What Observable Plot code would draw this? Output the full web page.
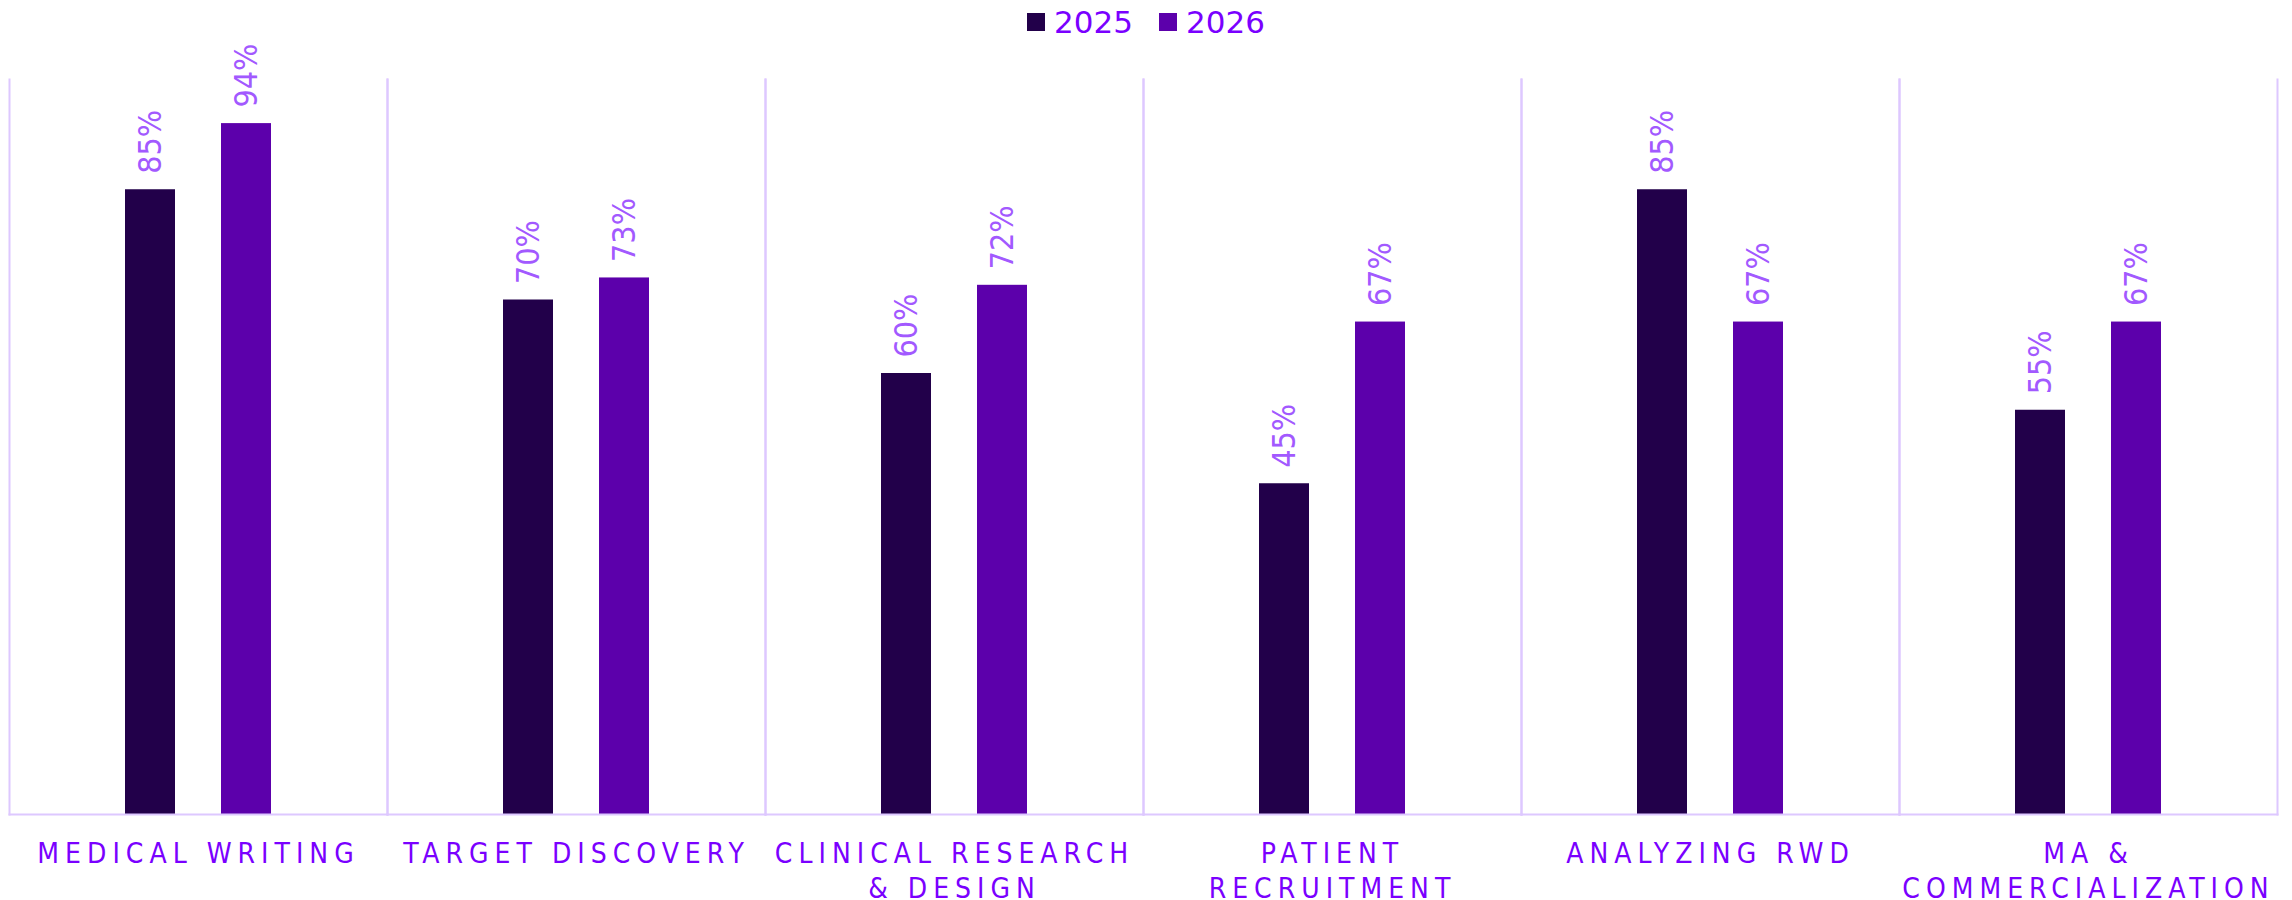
<!DOCTYPE html>
<html>
<head>
<meta charset="utf-8">
<script src="https://cdn.jsdelivr.net/npm/d3@7"></script>
<script src="https://cdn.jsdelivr.net/npm/@observablehq/plot@0.6"></script>
<style>
  html, body { margin: 0; padding: 0; background: #fff; }
  #legend { height: 40px; box-sizing: border-box; padding-top: 4px; display: flex; justify-content: center; align-items: flex-start; color: #7a00ff; }
  #legend > div { font-family: "DejaVu Sans", sans-serif !important; font-size: 31px !important; margin: 0 !important; min-height: 0 !important; justify-content: center; color: #7a00ff; }
  #legend span { margin-right: 26px !important; line-height: 36px; }
  #legend span:last-child { margin-right: 0 !important; }
  #legend span > svg { margin-right: 9px !important; }
  #chart svg { display: block; }
  g[aria-label="fx-axis tick label"] text { letter-spacing: 6px; }
</style>
</head>
<body>
<div id="legend"></div>
<div id="chart"></div>
<script>
// ---- data ----
const categories = [
  "MEDICAL WRITING",
  "TARGET DISCOVERY",
  "CLINICAL RESEARCH\n& DESIGN",
  "PATIENT\nRECRUITMENT",
  "ANALYZING RWD",
  "MA &\nCOMMERCIALIZATION"
];
const years = ["2025", "2026"];
const values2025 = [85, 70, 60, 45, 85, 55];
const values2026 = [94, 73, 72, 67, 67, 67];
const yearColors = ["#22004a", "#5c00ab"];

const data = categories.flatMap((c, i) => [
  {category: c, year: years[0], value: values2025[i]},
  {category: c, year: years[1], value: values2026[i]}
]);

const lineColor = "#ddc8ff";
const condensed = "'DejaVu Sans Condensed', 'DejaVu Sans', sans-serif";

// ---- legend ----
const legend = Plot.legend({
  color: {type: "ordinal", domain: years, range: yearColors},
  swatchSize: 18
});
document.getElementById("legend").appendChild(legend);

// ---- chart ----
const chart = Plot.plot({
  width: 2292,
  height: 860,
  marginTop: 39,
  marginBottom: 86,
  marginLeft: 9,
  marginRight: 15,
  style: {background: "white"},
  fx: {domain: categories, padding: 0, axis: null, label: null},
  x: {domain: years, paddingInner: 0.474, paddingOuter: 1.186, axis: null},
  y: {domain: [0, 100], axis: null},
  color: {domain: years, range: yearColors},
  marks: [
    Plot.frame({anchor: "left", stroke: lineColor, strokeWidth: 2}),
    Plot.frame({anchor: "right", stroke: lineColor, strokeWidth: 2}),
    Plot.barY(data, {fx: "category", x: "year", y: "value", fill: "year"}),
    Plot.frame({anchor: "bottom", stroke: lineColor, strokeWidth: 2}),
    Plot.text(data, {
      fx: "category", x: "year", y: "value",
      text: d => d.value + "%",
      rotate: -90, textAnchor: "start", lineAnchor: "middle",
      dy: -16,
      fill: "#a259ff",
      fontSize: 32,
      fontFamily: condensed
    }),
    Plot.axisFx({
      anchor: "bottom",
      tickSize: 0,
      tickPadding: 24,
      fontSize: 28,
      fontFamily: condensed,
      fill: "#7a00ff",
      lineHeight: 1.25,
      label: null
    })
  ]
});
document.getElementById("chart").appendChild(chart);
</script>
</body>
</html>
